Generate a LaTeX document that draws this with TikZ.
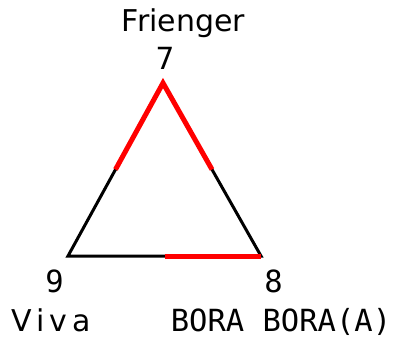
\documentclass[tikz,border=0pt]{standalone}
\usepackage{fontspec}
\setmainfont{DejaVu Sans}
\newfontfamily\monofont{DejaVu Sans Mono}
\newfontfamily\vivafont[WordSpace=0.5]{DejaVu Sans}
\usetikzlibrary{calc}
\definecolor{triblack}{HTML}{000000}
\definecolor{trired}{HTML}{FF0000}

\begin{document}
\begin{tikzpicture}[
  x=1pt, y=-1pt,
  numtxt/.style={inner sep=0pt, anchor=base, font=\monofont\fontsize{30.5}{32}\selectfont},
  titletxt/.style={numtxt, font=\fontsize{30}{32}\selectfont},
  teamtxt/.style={numtxt, text depth=0pt},
  side/.style={draw=triblack, line width=3pt, line join=miter},
  hot/.style={draw=trired, line width=5pt}
]
\useasboundingbox (0,0) rectangle (393,337);

% corners of the triangle and the midpoints of its sides
\coordinate (top) at (163,83);
\coordinate (left) at (68,256);
\coordinate (right) at (261,256);
\coordinate (midl) at ($(top)!0.5!(left)$);
\coordinate (midr) at ($(top)!0.5!(right)$);
\coordinate (midb) at ($(left)!0.5!(right)$);

\draw[side] (top) -- (left) -- (right) -- cycle;
\draw[hot] (midl) -- (top) -- (midr);
\draw[hot] (midb) -- (right);

\node[titletxt] (friender) at (183.5,32) {Frienger};
\node[numtxt] (seven) at (165,70) {7};
\node[numtxt] (nine) at (54.5,292) {9};
\node[numtxt] (eight) at (273.5,292) {8};
\node[teamtxt, font=\vivafont\fontsize{30}{32}\selectfont] (viva) at (51,331) {V i v a};
\node[teamtxt] (bora) at (281,331) {BORA BORA(A)};
\end{tikzpicture}
\end{document}
